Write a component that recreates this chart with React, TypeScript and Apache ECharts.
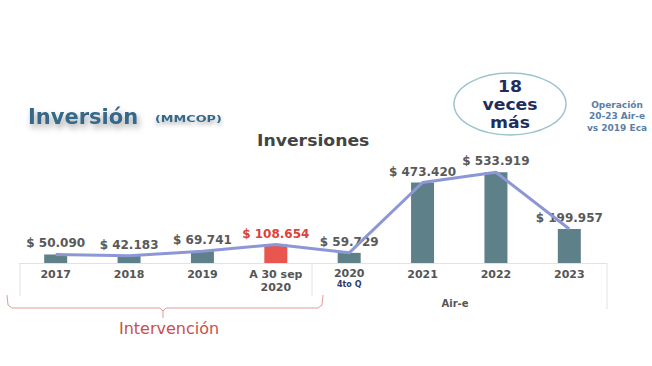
import React, { useEffect, useRef } from "react";
import * as echarts from "echarts";

const categories = ["2017", "2018", "2019", "A 30 sep\n2020", "2020|4to Q", "2021", "2022", "2023"];
const values = [50090, 42183, 69741, 108654, 59729, 473420, 533919, 199957];
const highlightIndex = 3;

const fmt = (v: number) => "$ " + String(v).replace(/\B(?=(\d{3})+(?!\d))/g, ".");

export default function App() {
  const ref = useRef<HTMLDivElement>(null);
  useEffect(() => {
    const chart = echarts.init(ref.current!, null, { renderer: "svg" });
    const font = "DejaVu Sans";
    chart.setOption({
      animation: false,
      backgroundColor: "#ffffff",
      grid: { left: 19, right: 46, top: 161, bottom: 103 },
      xAxis: {
        type: "category",
        data: categories,
        axisLine: { lineStyle: { color: "#e2e2e2", width: 1 } },
        axisTick: { show: false },
        axisLabel: {
          interval: 0,
          margin: 5,
          fontFamily: font,
          fontWeight: "bold",
          fontSize: 11,
          color: "#555",
          lineHeight: 13,
          formatter: (v: string) => {
            if (v.indexOf("|") >= 0) {
              const [a, b] = v.split("|");
              return "{a|" + a + "}\n{b|" + b + "}";
            }
            return v;
          },
          rich: {
            a: { fontFamily: font, fontWeight: "bold", fontSize: 11, color: "#555", lineHeight: 11 },
            b: { fontFamily: font, fontWeight: "bold", fontSize: 8, color: "#2b3b6b", lineHeight: 10 },
          },
        },
      },
      yAxis: { type: "value", min: 0, max: 600000, show: false, splitLine: { show: false } },
      series: [
        {
          type: "bar",
          barWidth: 23,
          data: values.map((v, i) => ({
            value: v,
            itemStyle: { color: i === highlightIndex ? "#e8564f" : "#5e8189" },
            label: { color: i === highlightIndex ? "#d9433c" : "#595959" },
          })),
          label: {
            show: true,
            position: "top",
            distance: 5,
            fontFamily: font,
            fontWeight: "bold",
            fontSize: 12,
            formatter: (p: any) => fmt(p.value),
          },
          z: 2,
        },
        {
          type: "line",
          data: values,
          symbol: "none",
          lineStyle: { color: "#8d97d6", width: 3 },
          z: 3,
        },
      ],
      graphic: [
        {
          type: "text",
          left: 28,
          top: 106,
          style: {
            text: "Inversión",
            font: "bold 21px 'DejaVu Sans'",
            fill: "#356789",
            textShadowColor: "rgba(0,0,0,0.35)",
            textShadowBlur: 6,
            textShadowOffsetX: 2,
            textShadowOffsetY: 4,
          },
        },
        {
          type: "text",
          x: 155,
          y: 115,
          scaleX: 1.6,
          style: {
            text: "(MMCOP)",
            font: "bold 8px 'DejaVu Sans'",
            fill: "#356789",
            textShadowColor: "rgba(0,0,0,0.3)",
            textShadowBlur: 4,
            textShadowOffsetY: 3,
          },
        },
        {
          type: "text",
          x: 257,
          y: 133,
          scaleX: 1.15,
          style: { text: "Inversiones", font: "bold 15px 'DejaVu Sans'", fill: "#444" },
        },
        {
          type: "ellipse",
          shape: { cx: 510, cy: 104, rx: 56, ry: 31 },
          style: { fill: "#fff", stroke: "#9cc3cf", lineWidth: 1.5 },
        },
        {
          type: "text",
          x: 510,
          y: 105,
          scaleX: 1.15,
          style: {
            text: "18\nveces\nmás",
            font: "bold 15px 'DejaVu Sans'",
            lineHeight: 18,
            fill: "#1f2d5c",
            textAlign: "center",
            textVerticalAlign: "middle",
          },
        },
        {
          type: "text",
          x: 617,
          y: 116,
          style: {
            text: "Operación\n20-23 Air-e\nvs 2019 Eca",
            font: "bold 9px 'DejaVu Sans'",
            lineHeight: 11.5,
            fill: "#5a80a6",
            textAlign: "center",
            textVerticalAlign: "middle",
          },
        },
        { type: "line", shape: { x1: 20, y1: 263, x2: 20, y2: 296 }, style: { stroke: "#e2e2e2", lineWidth: 1 } },
        { type: "line", shape: { x1: 312, y1: 263, x2: 312, y2: 296 }, style: { stroke: "#e2e2e2", lineWidth: 1 } },
        { type: "line", shape: { x1: 607, y1: 263, x2: 607, y2: 309 }, style: { stroke: "#e2e2e2", lineWidth: 1 } },
        {
          type: "polyline",
          shape: { points: [[7, 295], [8, 305], [12, 308], [160, 308], [163, 311], [163, 318]] },
          style: { stroke: "#e39a98", lineWidth: 1, fill: "none" },
        },
        {
          type: "polyline",
          shape: { points: [[323, 295], [322, 305], [318, 308], [166, 308], [163, 311]] },
          style: { stroke: "#e39a98", lineWidth: 1, fill: "none" },
        },
        {
          type: "text",
          x: 169,
          y: 328,
          style: {
            text: "Intervención",
            font: "16px 'DejaVu Sans'",
            fill: "#c8504a",
            textAlign: "center",
            textVerticalAlign: "middle",
          },
        },
        {
          type: "text",
          x: 455,
          y: 303,
          style: {
            text: "Air-e",
            font: "bold 10px 'DejaVu Sans'",
            fill: "#555",
            textAlign: "center",
            textVerticalAlign: "middle",
          },
        },
      ],
    });
    return () => chart.dispose();
  }, []);
  return <div ref={ref} style={{ position: "fixed", left: 0, top: 0, width: 652, height: 366 }} />;
}
